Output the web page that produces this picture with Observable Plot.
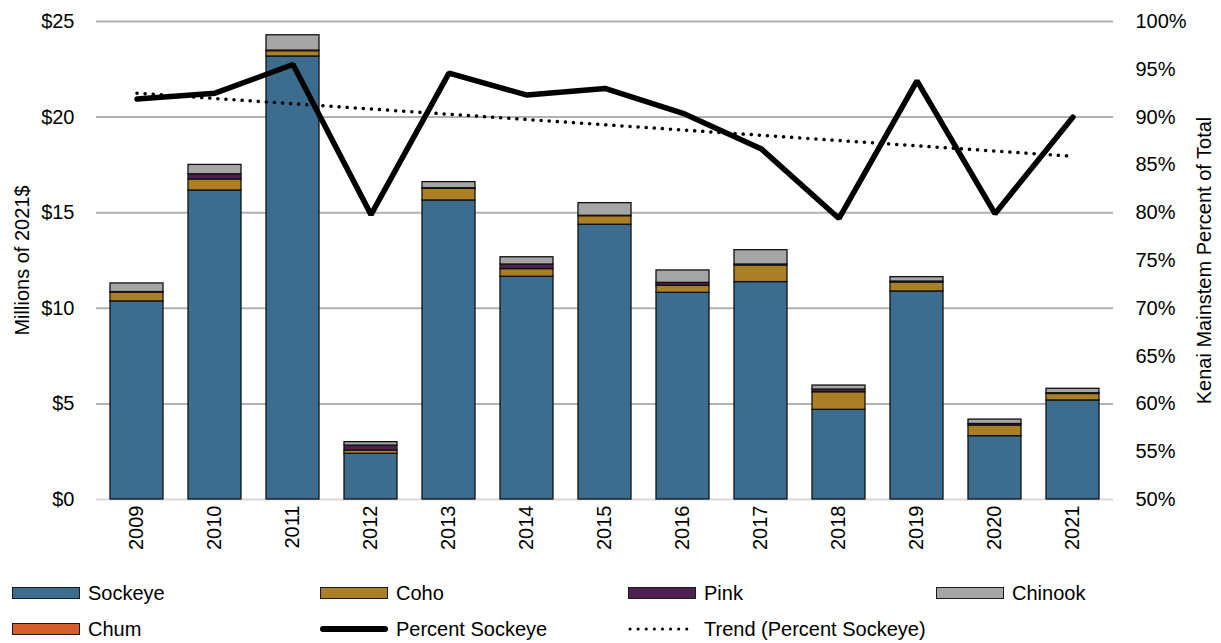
<!DOCTYPE html>
<html><head><meta charset="utf-8">
<script src="https://cdn.jsdelivr.net/npm/d3@7"></script>
<script src="https://cdn.jsdelivr.net/npm/@observablehq/plot@0.6"></script>
<style>
body{margin:0;background:#fff;font-family:"Liberation Sans",Arial,sans-serif;}
#wrap{position:relative;width:1221px;height:643px;overflow:hidden;}
#legend{position:absolute;left:0;top:0;width:1221px;height:643px;pointer-events:none;}
.item{position:absolute;height:24px;display:flex;align-items:center;font-size:20px;color:#000;white-space:nowrap;}
.sw{width:66px;height:10px;border:1px solid #1a1a1a;margin-right:8px;}
</style>
</head><body>
<div id="wrap"><div id="chart"></div><div id="legend"></div></div>
<script>
const years = ["2009","2010","2011","2012","2013","2014","2015","2016","2017","2018","2019","2020","2021"];
const species = ["Sockeye","Coho","Pink","Chinook","Chum"];
const colors = ["#3d6d8e","#ab7f25","#4e1f51","#a6a6a6","#d55f2c"];
const sockeye = [10.36,16.16,23.17,2.39,15.64,11.65,14.37,10.81,11.37,4.69,10.88,3.31,5.18];
const coho    = [0.47,0.58,0.28,0.17,0.61,0.40,0.45,0.37,0.87,0.92,0.47,0.56,0.34];
const pink    = [0.02,0.27,0.03,0.26,0.03,0.24,0.02,0.15,0.05,0.14,0.05,0.08,0.04];
const chinook = [0.45,0.49,0.80,0.18,0.32,0.38,0.66,0.65,0.75,0.21,0.23,0.23,0.23];
const chum    = [0,0,0,0,0,0,0,0,0,0,0,0,0];
const percentSockeye = [91.9,92.5,95.5,79.8,94.6,92.3,93.0,90.4,86.7,79.4,93.8,79.9,90.0];
const trendYears = ["2009","2021"];
const trendPercent = [92.5,85.9];
const leftTicks = [0,5,10,15,20,25];
const rightTicks = [50,55,60,65,70,75,80,85,90,95,100];

const series = {Sockeye: sockeye, Coho: coho, Pink: pink, Chinook: chinook, Chum: chum};
const rows = years.flatMap((yr, i) => species.map(s => ({year: yr, species: s, value: series[s][i]})));
const pctRows = years.map((yr, i) => ({year: yr, pct: percentSockeye[i]}));
const trendRows = trendYears.map((yr, i) => ({year: yr, pct: trendPercent[i]}));
const toLeft = p => (p - 50) / 2; // map 50–100% onto $0–$25

const font = '"Liberation Sans",Arial,sans-serif';
const chart = Plot.plot({
  width: 1221, height: 570,
  marginLeft: 96, marginRight: 108, marginTop: 21, marginBottom: 71,
  style: {fontFamily: font, fontSize: "20px", color: "#000", background: "#fff", overflow: "visible"},
  x: {domain: years, paddingInner: 0.32, paddingOuter: 0.16, label: null},
  y: {domain: [0, 25], label: null},
  color: {domain: species, range: colors},
  marks: [
    Plot.gridY(leftTicks.filter(d => d > 0), {stroke: "#b2b2b2", strokeOpacity: 1, strokeWidth: 2}),
    Plot.ruleY([0], {stroke: "#d9d9d9", strokeWidth: 2}),
    Plot.barY(rows, {x: "year", y: "value", fill: "species", stroke: "#111", strokeWidth: 1.3}),
    Plot.line(trendRows, {x: "year", y: d => toLeft(d.pct), stroke: "#000", strokeWidth: 3.5, strokeDasharray: "0.1 8", strokeLinecap: "round"}),
    Plot.line(pctRows, {x: "year", y: d => toLeft(d.pct), stroke: "#000", strokeWidth: 5.5, strokeLinejoin: "miter"}),
    Plot.axisY({anchor: "left", ticks: leftTicks, tickFormat: d => "$" + d, tickSize: 0, tickPadding: 22,
      label: "Millions of 2021$", labelAnchor: "center", labelArrow: "none", labelOffset: 82}),
    Plot.axisY({anchor: "right", ticks: rightTicks.map(toLeft), tickFormat: d => (50 + 2 * d) + "%", tickSize: 0, tickPadding: 22,
      label: "Kenai Mainstem Percent of Total", labelAnchor: "center", labelArrow: "none", labelOffset: 97}),
    Plot.axisX({tickRotate: -90, tickSize: 0, tickPadding: 6, label: null})
  ]
});
document.getElementById("chart").appendChild(chart);

const legendItems = [
  {name: "Sockeye", kind: "sw", color: colors[0], x: 12, y: 581},
  {name: "Coho", kind: "sw", color: colors[1], x: 320, y: 581},
  {name: "Pink", kind: "sw", color: colors[2], x: 628, y: 581},
  {name: "Chinook", kind: "sw", color: colors[3], x: 936, y: 581},
  {name: "Chum", kind: "sw", color: colors[4], x: 12, y: 617},
  {name: "Percent Sockeye", kind: "line", x: 320, y: 617},
  {name: "Trend (Percent Sockeye)", kind: "dot", x: 628, y: 617}
];
const leg = document.getElementById("legend");
for (const it of legendItems) {
  const d = document.createElement("div");
  d.className = "item";
  d.style.left = it.x + "px"; d.style.top = it.y + "px";
  let sw;
  if (it.kind === "sw") {
    sw = `<div class="sw" style="background:${it.color}"></div>`;
  } else if (it.kind === "line") {
    sw = `<svg width="68" height="10" style="margin-right:8px"><line x1="3" x2="65" y1="5" y2="5" stroke="#000" stroke-width="6" stroke-linecap="round"/></svg>`;
  } else {
    sw = `<svg width="68" height="10" style="margin-right:8px"><line x1="2" x2="66" y1="5" y2="5" stroke="#000" stroke-width="3" stroke-dasharray="0.1 8" stroke-linecap="round"/></svg>`;
  }
  d.innerHTML = sw + `<span>${it.name}</span>`;
  leg.appendChild(d);
}
</script>
</body></html>
